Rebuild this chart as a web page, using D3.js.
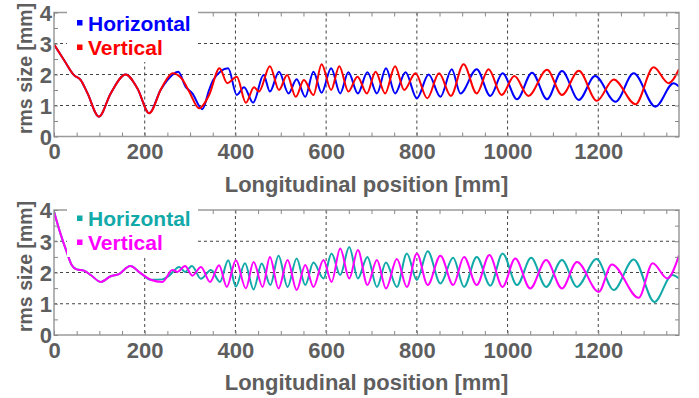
<!DOCTYPE html>
<html>
<head>
<meta charset="utf-8">
<script src="https://cdn.jsdelivr.net/npm/d3@7"></script>
<style>
  body { margin: 0; background: #fff; }
  svg text { font-family: "Liberation Sans", Arial, sans-serif; font-weight: bold; }
</style>
</head>
<body>
<svg id="chart" width="699" height="398"></svg>
<script>
var xTicks = [0, 200, 400, 600, 800, 1000, 1200];
var yTicks = [0, 1, 2, 3, 4];
var xMax = 1378;

// top panel: both planes identical until ~235 mm
var topStart = [[0,2.97],[22,2.47],[44,1.98],[59,1.82],[74,1.39],[99,0.64],[125,1.39],
  [158,2.0],[184,1.55],[210,0.75],[235,1.5]];

var topHoriz = topStart.concat([[250,1.82],[274,2.09],[290,1.61],[305,1.39],[327,0.88],
  [342,1.5],[351,1.82],[384,2.2],[403,1.34],[419,1.59],[439,1.09],[462,1.98],[476,1.45],
  [496,2.09],[517,1.39],[535,1.85],[554,1.28],[572,2.09],[590,1.41],[611,2.2],[631,1.39],
  [649,2.07],[670,1.39],[691,2.07],[712,1.39],[732,2.2],[752,1.39],[775,2.07],[800,1.23],
  [826,2.0],[852,1.28],[877,2.17],[896,1.39],[932,2.17],[962,1.31],[989,2.04],[1021,1.2],
  [1054,2.06],[1087,1.2],[1120,2.11],[1157,1.18],[1193,1.95],[1238,1.12],[1278,2.04],
  [1326,0.96],[1366,1.72],[1378,1.61]]);

var topVert = topStart.concat([[243,1.72],[262,2.04],[283,1.84],[298,1.45],[320,0.91],
  [342,1.34],[365,2.2],[382,1.72],[403,1.93],[423,1.09],[441,1.59],[452,1.45],[476,2.27],
  [496,1.5],[514,1.98],[533,1.28],[551,1.82],[572,1.34],[590,2.33],[611,1.5],[629,2.27],
  [649,1.45],[669,1.93],[690,1.39],[709,2.09],[730,1.39],[752,2.27],[772,1.5],[797,2.04],
  [823,1.23],[849,2.04],[875,1.31],[903,2.33],[932,1.39],[958,2.17],[987,1.34],[1015,1.95],
  [1046,1.31],[1087,2.15],[1120,1.34],[1157,2.12],[1197,1.15],[1234,1.84],[1282,1.04],
  [1322,2.23],[1355,1.72],[1378,2.17]]);

// bottom panel
var botStart = [[0,3.95],[13,3.3],[28,2.66],[39,2.24],[50,2.1],[66,2.06],[81,1.92],
  [103,1.7],[125,1.88],[143,1.95],[168,2.21],[191,1.98],[213,1.77]];

var botHoriz = botStart.concat([[239,1.78],[254,1.9],[276,2.18],[289,2.02],[304,2.21],
  [324,1.8],[346,2.08],[366,1.7],[384,2.39],[401,1.55],[421,2.3],[440,1.46],[458,2.29],
  [477,1.6],[495,2.54],[515,1.54],[535,2.45],[554,1.6],[572,2.32],[594,1.81],[612,2.61],
  [631,1.92],[651,2.82],[670,1.81],[691,2.5],[712,1.54],[732,2.32],[756,1.54],[778,2.61],
  [800,1.76],[824,2.68],[852,1.65],[880,2.47],[904,1.54],[932,2.5],[962,1.58],[989,2.61],
  [1021,1.6],[1052,2.47],[1085,1.54],[1120,2.4],[1153,1.54],[1196,2.43],[1234,1.44],
  [1278,2.42],[1324,1.06],[1363,1.92],[1378,1.81]]);

var botVert = botStart.concat([[239,1.7],[261,2.08],[272,2.02],[289,2.21],[305,1.9],
  [324,2.18],[344,1.7],[364,2.23],[381,1.54],[401,2.39],[423,1.49],[440,2.34],[460,1.54],
  [476,2.5],[495,1.49],[515,2.4],[535,1.44],[554,2.24],[572,1.54],[594,2.4],[612,1.7],
  [631,2.77],[651,1.81],[670,2.72],[691,1.6],[712,2.4],[732,1.49],[756,2.43],[778,1.54],
  [800,2.61],[824,1.6],[852,2.54],[880,1.6],[904,2.5],[932,1.6],[960,2.56],[989,1.54],
  [1017,2.45],[1050,1.49],[1085,2.4],[1120,1.49],[1153,2.34],[1201,1.38],[1230,2.26],
  [1289,1.19],[1320,2.3],[1352,1.81],[1378,2.55]]);

var panels = [
  {top: 12.5, bottom: 136.5, legendY: [30.5, 55], box: [4, 62],
   series: [{name: "Horizontal", color: "#0000ff", data: topHoriz},
            {name: "Vertical", color: "#ff0000", data: topVert}]},
  {top: 210, bottom: 335, legendY: [226, 250], box: [203, 257],
   series: [{name: "Horizontal", color: "#12a9a9", data: botHoriz},
            {name: "Vertical", color: "#ff00ff", data: botVert}]}
];

var left = 54, right = 679;
var textColor = "#5e5e5e";
var svg = d3.select("#chart");

var x = d3.scaleLinear().domain([0, xMax]).range([left, right]);

panels.forEach(function(p, i) {
  var y = d3.scaleLinear().domain([0, 4]).range([p.bottom, p.top]);
  var g = svg.append("g");

  // dashed grid
  g.selectAll(".vgrid").data(xTicks.slice(1))
    .enter().append("line")
      .attr("x1", d => x(d)).attr("x2", d => x(d))
      .attr("y1", p.top).attr("y2", p.bottom)
      .attr("stroke", "#444").attr("stroke-dasharray", "3,3");
  g.selectAll(".hgrid").data([1, 2, 3])
    .enter().append("line")
      .attr("x1", left).attr("x2", right)
      .attr("y1", d => y(d)).attr("y2", d => y(d))
      .attr("stroke", "#444").attr("stroke-dasharray", "3,3");

  // curves
  svg.append("clipPath").attr("id", "clip" + i)
    .append("rect").attr("x", left).attr("y", p.top)
    .attr("width", right - left).attr("height", p.bottom - p.top);

  var line = d3.line()
    .x(d => x(d[0]))
    .y(d => y(d[1]))
    .curve(d3.curveMonotoneX);

  g.selectAll(".curve").data(p.series)
    .enter().append("path")
      .attr("clip-path", "url(#clip" + i + ")")
      .attr("fill", "none")
      .attr("stroke", d => d.color)
      .attr("stroke-width", 2)
      .attr("d", d => line(d.data));

  // frame and minor ticks
  g.append("rect")
    .attr("x", left).attr("y", p.top)
    .attr("width", right - left).attr("height", p.bottom - p.top)
    .attr("fill", "none").attr("stroke", "#9a9a9a").attr("stroke-width", 1.5);

  var minorX = d3.range(0, xMax, 50), minorY = d3.range(0, 4.01, 0.5);
  var tickAxes = [
    [d3.axisBottom(x).tickValues(minorX), "translate(0," + p.bottom + ")"],
    [d3.axisTop(x).tickValues(minorX), "translate(0," + p.top + ")"],
    [d3.axisLeft(y).tickValues(minorY), "translate(" + left + ",0)"],
    [d3.axisRight(y).tickValues(minorY), "translate(" + right + ",0)"]
  ];
  tickAxes.forEach(function(a) {
    var ax = g.append("g").attr("transform", a[1])
      .call(a[0].tickSize(-4).tickFormat(""));
    ax.select(".domain").remove();
    ax.selectAll("line").attr("stroke", "#888");
  });

  // tick labels
  var xa = g.append("g").attr("transform", "translate(0," + p.bottom + ")")
    .call(d3.axisBottom(x).tickValues(xTicks).tickFormat(d3.format("d"))
      .tickSize(0).tickPadding(7));
  var ya = g.append("g").attr("transform", "translate(" + (left - 1) + ",0)")
    .call(d3.axisLeft(y).tickValues(yTicks).tickFormat(d3.format("d"))
      .tickSize(0).tickPadding(1));
  [xa, ya].forEach(function(ax) {
    ax.select(".domain").remove();
    ax.selectAll("text")
      .attr("fill", textColor)
      .style("font-size", "22px")
      .style("font-family", "'Liberation Sans', Arial, sans-serif")
      .style("font-weight", "bold");
  });
  ya.selectAll("text").attr("dy", "0.36em");

  // axis titles
  g.append("text")
    .attr("x", (left + right) / 2).attr("y", p.bottom + 55)
    .attr("text-anchor", "middle")
    .attr("fill", textColor).style("font-size", "22px")
    .text("Longitudinal position [mm]");
  g.append("text")
    .attr("transform", "translate(32," + ((p.top + p.bottom) / 2 - 6) + ") rotate(-90)")
    .attr("text-anchor", "middle")
    .attr("fill", textColor).style("font-size", "19.5px")
    .text("rms size [mm]");

  // legend
  g.append("rect")
    .attr("x", 67).attr("y", p.box[0])
    .attr("width", 131).attr("height", p.box[1] - p.box[0])
    .attr("fill", "#fff");
  p.series.forEach(function(s, k) {
    g.append("rect")
      .attr("x", 77).attr("y", p.legendY[k] - 10.5)
      .attr("width", 5.5).attr("height", 5.5)
      .attr("fill", s.color);
    g.append("text")
      .attr("x", 88).attr("y", p.legendY[k])
      .attr("fill", s.color).style("font-size", "21px")
      .text(s.name);
  });
});
</script>
</body>
</html>
